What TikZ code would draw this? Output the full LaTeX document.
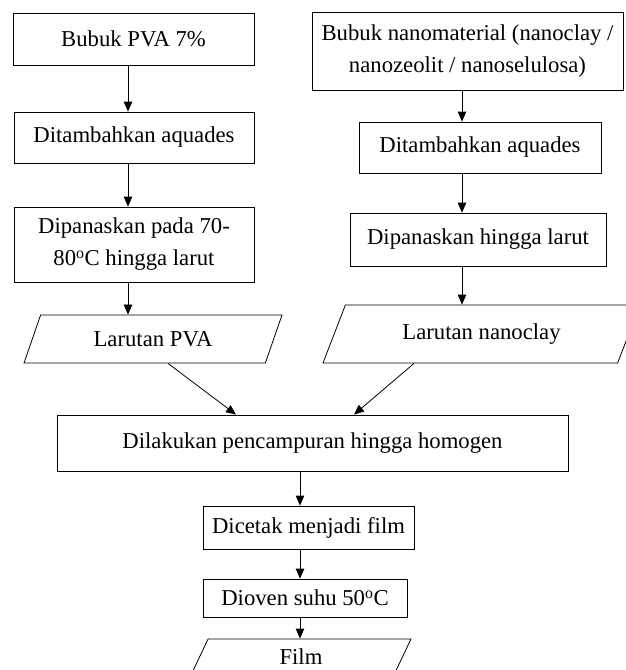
\documentclass[tikz,border=0pt]{standalone}
\usepackage{fontspec}
\setmainfont{Liberation Serif}
\usetikzlibrary{arrows.meta,shapes.geometric}

\begin{document}
\begin{tikzpicture}[x=1pt,y=-1pt,
  flowbox/.style={draw,line width=0.8pt,inner sep=0pt,align=center,
    font=\fontsize{22.7}{32}\selectfont},
  flowdata/.style={draw,line width=0.8pt,inner sep=0pt,trapezium,
    trapezium left angle=42.7,trapezium right angle=137.3,
    trapezium stretches body,font=\fontsize{22.7}{32}\selectfont},
  flowarrow/.style={-{Triangle[length=10pt,width=8.5pt]},line width=0.8pt}]
  \useasboundingbox (0,0) rectangle (625,670);
  % columns of the vertical arrows
  \coordinate (colL) at (128,0);
  \coordinate (colR) at (462,0);
  \coordinate (colM) at (300,0);
  % left branch
  \node[flowbox,minimum width=241,minimum height=52] (pvaPowder) at (133.5,39) {Bubuk PVA 7\%};
  \node[flowbox,minimum width=240,minimum height=51] (pvaWater) at (134,137.5) {Ditambahkan aquades};
  \node[flowbox,minimum width=240,minimum height=75] (pvaHeat) at (134,244.5) {Dipanaskan pada 70-\\80\textsuperscript{o}C hingga larut};
  \node[flowdata,minimum width=258,minimum height=48] (pvaSol) at (153,339) {Larutan PVA};
  % right branch
  \node[flowbox,minimum width=311,minimum height=78] (nanoPowder) at (467.5,51) {Bubuk nanomaterial (nanoclay /\\nanozeolit / nanoselulosa)};
  \node[flowbox,minimum width=242,minimum height=51] (nanoWater) at (480,147.5) {Ditambahkan aquades};
  \node[flowbox,minimum width=256,minimum height=53] (nanoHeat) at (478,239.5) {Dipanaskan hingga larut};
  \node[flowdata,minimum width=317,minimum height=58] (nanoSol) at (481.5,334) {Larutan nanoclay};
  % joined steps
  \node[flowbox,minimum width=511,minimum height=56] (mixing) at (312.5,443) {Dilakukan pencampuran hingga homogen};
  \node[flowbox,minimum width=211,minimum height=43] (casting) at (308.5,527.5) {Dicetak menjadi film};
  \node[flowbox,minimum width=204,minimum height=38] (drying) at (305,598) {Dioven suhu 50\textsuperscript{o}C};
  \node[flowdata,minimum width=220,minimum height=36] (film) at (301,657) {Film};

  \draw[flowarrow] (colL |- pvaPowder.south) -- (colL |- pvaWater.north);
  \draw[flowarrow] (colL |- pvaWater.south) -- (colL |- pvaHeat.north);
  \draw[flowarrow] (colL |- pvaHeat.south) -- (colL |- pvaSol.north);
  \draw[flowarrow] (colR |- nanoPowder.south) -- (colR |- nanoWater.north);
  \draw[flowarrow] (colR |- nanoWater.south) -- (colR |- nanoHeat.north);
  \draw[flowarrow] (colR |- nanoHeat.south) -- (colR |- nanoSol.north);
  \draw[flowarrow] ([xshift=15]pvaSol.south) -- ([xshift=-76.5]mixing.north);
  \draw[flowarrow] ([xshift=-67.5]nanoSol.south) -- ([xshift=41.5]mixing.north);
  \draw[flowarrow] (colM |- mixing.south) -- (colM |- casting.north);
  \draw[flowarrow] (colM |- casting.south) -- (colM |- drying.north);
  \draw[flowarrow] (colM |- drying.south) -- (colM |- film.north);
\end{tikzpicture}
\end{document}
